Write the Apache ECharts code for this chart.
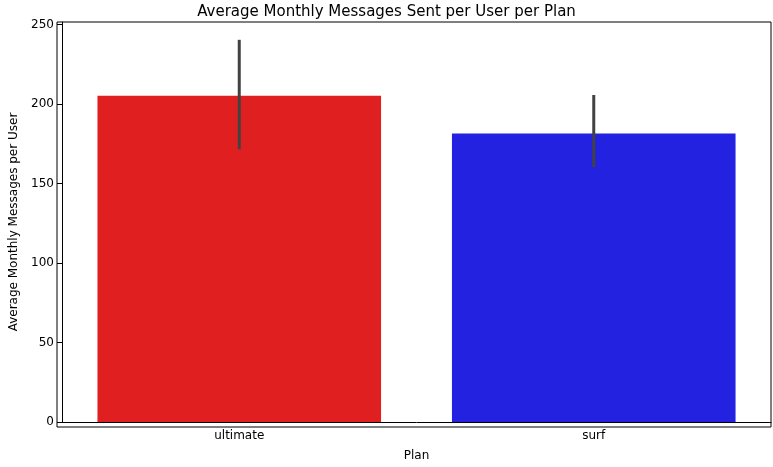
<!DOCTYPE html>
<html><head><meta charset="utf-8">
<script src="https://cdn.jsdelivr.net/npm/echarts@6/dist/echarts.min.js"></script>
<style>html,body{margin:0;padding:0;background:#fff}#c{width:773px;height:467px}</style>
</head><body><div id="c"></div>
<script>
const plans = ['ultimate', 'surf'];
const meanMessages = [205.2, 181.4];
const ciLow = [171.5, 160.2];
const ciHigh = [240.3, 205.6];
const barColors = ['#e02020', '#2222e0'];

const chart = echarts.init(document.getElementById('c'));
const font = 'DejaVu Sans';
chart.setOption({
  animation: false,
  title: { text: 'Average Monthly Messages Sent per User per Plan', left: 'center', top: 0,
    textStyle: { fontFamily: font, fontSize: 15, fontWeight: 'normal', color: '#000' } },
  grid: { left: 57, right: 2, top: 22, bottom: 40 },
  xAxis: {
    type: 'category', data: plans, name: 'Plan', nameLocation: 'middle', nameGap: 28,
    nameTextStyle: { fontFamily: font, fontSize: 12, color: '#000' },
    axisLine: { lineStyle: { color: '#000' } },
    axisTick: { alignWithLabel: true, lineStyle: { color: '#000' } },
    axisLabel: { fontFamily: font, fontSize: 12, color: '#000' }
  },
  yAxis: {
    type: 'value', min: 0, max: 251.5, interval: 50,
    name: 'Average Monthly Messages per User', nameLocation: 'middle', nameGap: 42,
    nameTextStyle: { fontFamily: font, fontSize: 12, color: '#000' },
    axisLine: { show: true, lineStyle: { color: '#000' } },
    axisTick: { show: true, lineStyle: { color: '#000' } },
    axisLabel: { fontFamily: font, fontSize: 12, color: '#000', showMaxLabel: false },
    splitLine: { show: false }
  },
  series: [
    {
      type: 'bar', barWidth: '80%',
      data: meanMessages.map((v, i) => ({ value: v, itemStyle: { color: barColors[i] } }))
    },
    {
      type: 'custom',
      data: plans.map((p, i) => [i, ciLow[i], ciHigh[i]]),
      renderItem: (params, api) => {
        const a = api.coord([api.value(0), api.value(1)]);
        const b = api.coord([api.value(0), api.value(2)]);
        return { type: 'line', shape: { x1: a[0], y1: a[1], x2: b[0], y2: b[1] },
          style: { stroke: '#424242', lineWidth: 3 } };
      },
      z: 10
    }
  ]
});
// box frame
chart.setOption({ graphic: [{ type: 'rect', shape: { x: 57, y: 22, width: 714, height: 405 },
  style: { fill: 'none', stroke: '#000', lineWidth: 1 }, silent: true }] });
</script></body></html>
